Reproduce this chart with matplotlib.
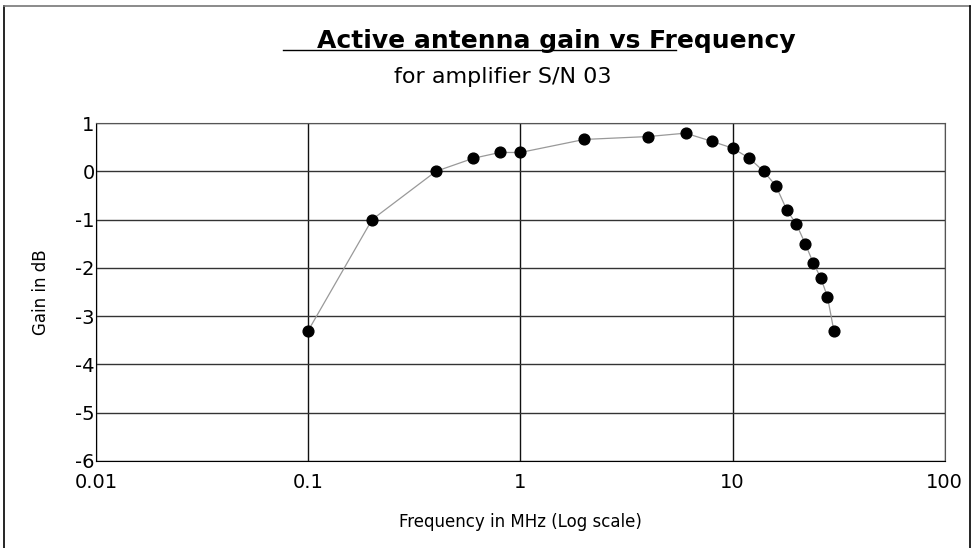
import matplotlib.pyplot as plt
from matplotlib.lines import Line2D

# measured gain of the active antenna (amplifier S/N 03)
freq_mhz = [0.1, 0.2, 0.4, 0.6, 0.8, 1, 2, 4, 6, 8, 10, 12, 14, 16, 18, 20, 22, 24, 26, 28, 30]
gain_db = [-3.3, -1.0, 0.0, 0.27, 0.39, 0.39, 0.66, 0.72, 0.79, 0.62, 0.48, 0.27, 0.0,
           -0.3, -0.8, -1.1, -1.5, -1.9, -2.2, -2.6, -3.3]

x_ticks = [0.01, 0.1, 1, 10, 100]
x_tick_labels = ["0.01", "0.1", "1", "10", "100"]
y_ticks = [1, 0, -1, -2, -3, -4, -5, -6]

plt.rcParams['font.family'] = ['DejaVu Sans']
plt.rcParams['axes.unicode_minus'] = False

fig = plt.figure(figsize=(9.75, 5.48), dpi=100)
ax = fig.add_axes([0.0985, 0.1588, 0.8705, 0.6167])

ax.plot(freq_mhz, gain_db, color='#999999', lw=0.9, zorder=2)
ax.scatter(freq_mhz, gain_db, s=60, color='black', zorder=3)

ax.set_xscale('log')
ax.set_xlim(0.01, 100)
ax.set_ylim(-6, 1)
ax.set_xticks(x_ticks)
ax.set_xticklabels(x_tick_labels)
ax.minorticks_off()
ax.set_yticks(y_ticks)
ax.tick_params(axis='both', length=0, labelsize=14, colors='black')
ax.tick_params(axis='x', pad=9)
ax.tick_params(axis='y', pad=1)

ax.grid(True, axis='x', color='#111111', lw=1.0)
ax.grid(True, axis='y', color='#333333', lw=1.0)
ax.set_axisbelow(True)
for side in ['left', 'bottom']:
    ax.spines[side].set_color('black')
for side in ['top', 'right']:
    ax.spines[side].set_color('#555555')

ax.set_xlabel("Frequency in MHz (Log scale)", fontsize=12, labelpad=15)
ax.set_ylabel("Gain in dB", fontsize=12, labelpad=18)

fig.text(0.571, 0.925, "Active antenna gain vs Frequency", fontsize=18,
         fontweight='bold', ha='center', va='center')
fig.add_artist(Line2D([283 / 975, 676 / 975], [1 - 50 / 548, 1 - 50 / 548],
                      color='black', lw=1.0))
fig.text(0.516, 0.86, "for amplifier S/N 03", fontsize=16, ha='center', va='center')

# frame round the picture
fig.add_artist(Line2D([4 / 975, 4 / 975], [0, 1 - 6 / 548], color='black', lw=1.2))
fig.add_artist(Line2D([4 / 975, 970 / 975], [1 - 6 / 548, 1 - 6 / 548], color='#777777', lw=1.2))
fig.add_artist(Line2D([970 / 975, 970 / 975], [0, 1 - 6 / 548], color='black', lw=1.2))

fig.savefig('out.png', dpi=100)
